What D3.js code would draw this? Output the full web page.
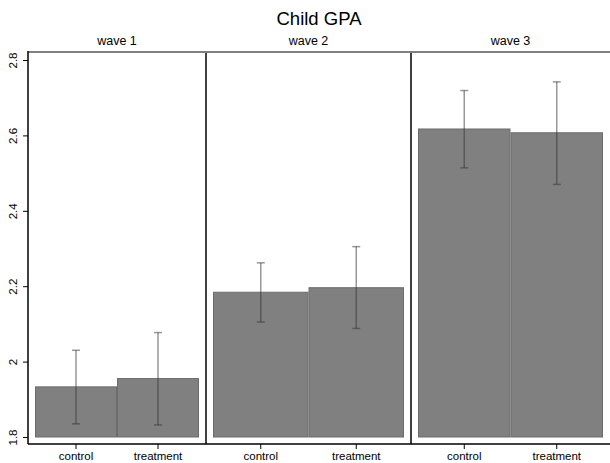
<!DOCTYPE html>
<html>
<head>
<meta charset="utf-8">
<script src="https://cdn.jsdelivr.net/npm/d3@7"></script>
<style>
  html, body { margin: 0; padding: 0; background: #fff; }
  svg { display: block; font-family: "Liberation Sans", Arial, sans-serif; }
</style>
</head>
<body>
<svg id="chart" width="610" height="463"></svg>
<script>
// Child GPA by wave and group: means with confidence intervals
const waves = ["wave 1", "wave 2", "wave 3"];
const groups = ["control", "treatment"];
const meanGPA = [
  [1.933, 1.955],
  [2.184, 2.196],
  [2.617, 2.607]
];
const ciLow = [
  [1.835, 1.832],
  [2.105, 2.088],
  [2.514, 2.470]
];
const ciHigh = [
  [2.030, 2.077],
  [2.262, 2.305],
  [2.719, 2.742]
];
const yTicks = [1.8, 2.0, 2.2, 2.4, 2.6, 2.8];
const yTickLabels = ["1.8", "2", "2.2", "2.4", "2.6", "2.8"];
const baseValue = 1.8;

// Layout
const W = 610, H = 463;
const panelEdges = [28, 206, 411, 610];
const plotTop = 52, plotBottom = 444;
const innerPad = 7;

const svg = d3.select("#chart");

const y = d3.scaleLinear().domain([1.8, 2.8]).range([437, 60]);

// Title
svg.append("text")
  .attr("x", (panelEdges[0] + panelEdges[3]) / 2)
  .attr("y", 25)
  .attr("text-anchor", "middle")
  .attr("font-size", 18.5)
  .attr("fill", "#000")
  .text("Child GPA");

waves.forEach((wave, i) => {
  const x0 = panelEdges[i], x1 = panelEdges[i + 1];
  const x = d3.scaleBand().domain(groups).range([x0 + innerPad, x1 - innerPad]).padding(0);
  const g = svg.append("g");

  // Panel heading
  g.append("text")
    .attr("x", (x0 + x1) / 2)
    .attr("y", 45)
    .attr("text-anchor", "middle")
    .attr("font-size", 12.5)
    .text(wave);

  // Bars
  g.selectAll("rect.bar")
    .data(groups)
    .join("rect")
    .attr("class", "bar")
    .attr("x", d => x(d) + 0.5)
    .attr("width", x.bandwidth() - 1)
    .attr("y", (d, j) => y(meanGPA[i][j]))
    .attr("height", (d, j) => y(baseValue) - y(meanGPA[i][j]))
    .attr("fill", "#808080")
    .attr("stroke", "#6c6c6c")
    .attr("stroke-width", 1);

  // Confidence interval whiskers
  const ci = g.selectAll("g.ci")
    .data(groups)
    .join("g")
    .attr("class", "ci")
    .attr("stroke", "rgba(50,50,50,0.5)")
    .attr("stroke-width", 1.5);
  ci.append("line")
    .attr("x1", d => x(d) + x.bandwidth() / 2)
    .attr("x2", d => x(d) + x.bandwidth() / 2)
    .attr("y1", (d, j) => y(ciLow[i][j]))
    .attr("y2", (d, j) => y(ciHigh[i][j]));
  [ciLow, ciHigh].forEach(arr => {
    ci.append("line")
      .attr("x1", d => x(d) + x.bandwidth() / 2 - 4)
      .attr("x2", d => x(d) + x.bandwidth() / 2 + 4)
      .attr("y1", (d, j) => y(arr[i][j]))
      .attr("y2", (d, j) => y(arr[i][j]));
  });

  // Bottom axis per panel
  const xAxis = d3.axisBottom(x).tickSizeOuter(0).tickSizeInner(5).tickPadding(3);
  const ax = g.append("g").attr("transform", `translate(0,${plotBottom})`).call(xAxis);
  ax.select(".domain").remove();
  ax.selectAll(".tick line").attr("stroke", "#000");
  ax.selectAll(".tick text")
    .attr("font-size", 11.5)
    .attr("font-family", "Liberation Sans, Arial, sans-serif")
    .attr("fill", "#000");

  // Panel divider
  if (i > 0) {
    g.append("line")
      .attr("x1", x0).attr("x2", x0)
      .attr("y1", plotTop).attr("y2", plotBottom)
      .attr("stroke", "#000").attr("stroke-width", 1.5);
  }
});

// Top border of plot region
svg.append("line")
  .attr("x1", panelEdges[0]).attr("x2", panelEdges[3])
  .attr("y1", plotTop).attr("y2", plotTop)
  .attr("stroke", "#808080").attr("stroke-width", 2);

// Bottom axis line
svg.append("line")
  .attr("x1", panelEdges[0]).attr("x2", panelEdges[3])
  .attr("y1", plotBottom).attr("y2", plotBottom)
  .attr("stroke", "#000").attr("stroke-width", 1.5);

// Left y axis
const yAxis = d3.axisLeft(y)
  .tickValues(yTicks)
  .tickFormat((d, k) => yTickLabels[k])
  .tickSizeInner(5)
  .tickSizeOuter(0)
  .tickPadding(3);
const yg = svg.append("g").attr("transform", `translate(${panelEdges[0]},0)`).call(yAxis);
yg.select(".domain").remove();
yg.append("line")
  .attr("x1", 0).attr("x2", 0)
  .attr("y1", plotTop - 1).attr("y2", plotBottom)
  .attr("stroke", "#000").attr("stroke-width", 1.5);
yg.selectAll(".tick line").attr("stroke", "#000");
yg.selectAll(".tick text")
  .attr("font-size", 11.5)
  .attr("font-family", "Liberation Sans, Arial, sans-serif")
  .attr("fill", "#000")
  .attr("text-anchor", "middle")
  .attr("x", 0)
  .attr("dy", 0)
  .attr("transform", "translate(-11,0) rotate(-90)");
</script>
</body>
</html>
